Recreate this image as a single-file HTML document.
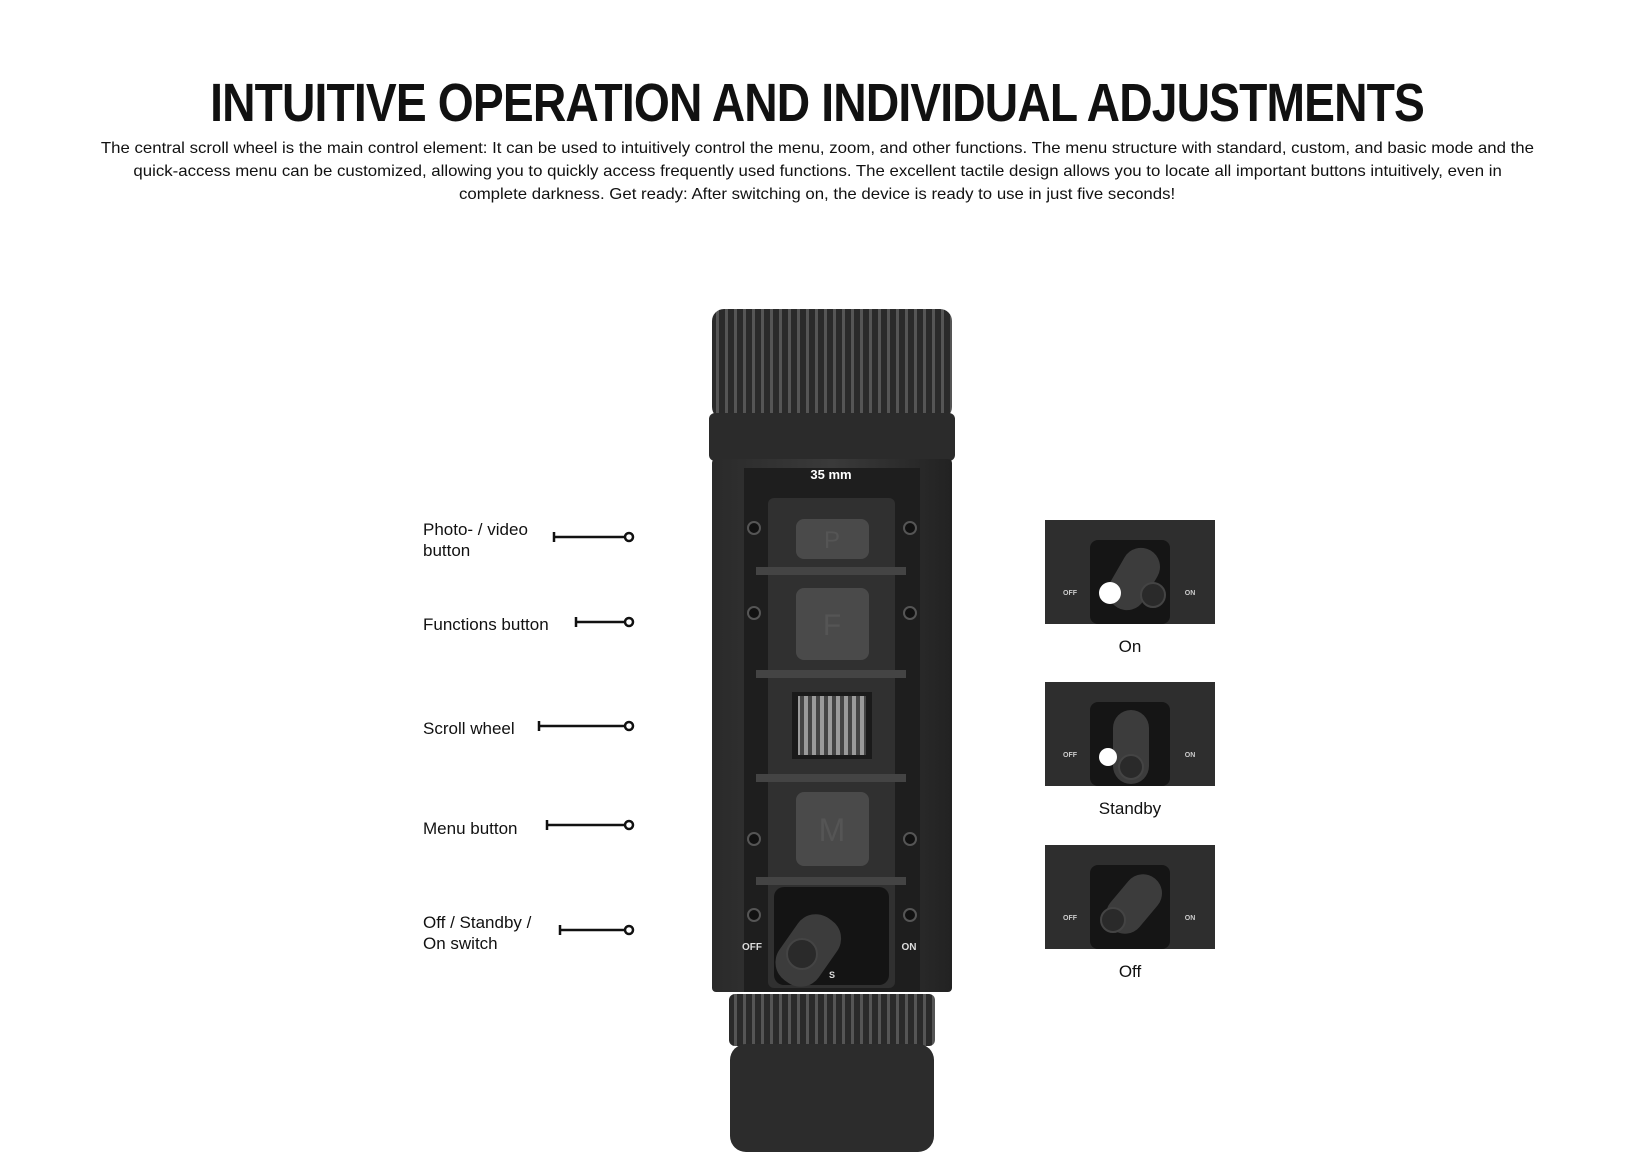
<!DOCTYPE html>
<html><head><meta charset="utf-8"><style>
html,body{margin:0;padding:0;background:#fff;}
body{width:1635px;height:1171px;position:relative;overflow:hidden;font-family:"Liberation Sans",sans-serif;color:#111;}
h1{position:absolute;left:0;width:1635px;top:72px;margin:0;text-align:center;font-size:54px;font-weight:bold;letter-spacing:-1px;}
h1 span{display:inline-block;transform:scaleX(0.856);}
.p{position:absolute;left:0;width:1635px;top:137px;text-align:center;font-size:16px;line-height:23px;}
.p div{white-space:nowrap;}
.p span{display:inline-block;transform:scaleX(1.05);}
svg{position:absolute;left:0;top:0;}
</style></head><body>
<h1><span>INTUITIVE OPERATION AND INDIVIDUAL ADJUSTMENTS</span></h1>
<div class="p">
<div><span>The central scroll wheel is the main control element: It can be used to intuitively control the menu, zoom, and other functions. The menu structure with standard, custom, and basic mode and the</span></div>
<div><span>quick-access menu can be customized, allowing you to quickly access frequently used functions. The excellent tactile design allows you to locate all important buttons intuitively, even in</span></div>
<div><span>complete darkness. Get ready: After switching on, the device is ready to use in just five seconds!</span></div>
</div>
<svg width="1635" height="1171" viewBox="0 0 1635 1171">
<defs>
<pattern id="knurl" width="9" height="10" patternUnits="userSpaceOnUse"><rect width="9" height="10" fill="#2a2a2a"/><rect width="3" height="10" fill="#555"/></pattern>
<linearGradient id="body" x1="0" x2="1"><stop offset="0" stop-color="#2a2a2a"/><stop offset="0.5" stop-color="#3a3a3a"/><stop offset="1" stop-color="#222"/></linearGradient>
<pattern id="wheel" width="8" height="10" patternUnits="userSpaceOnUse"><rect width="8" height="10" fill="#444"/><rect width="4" height="10" fill="#9a9a9a"/></pattern>
</defs>
<g transform="translate(-4,-2)">
<rect x="716" y="311" width="240" height="110" rx="12" fill="url(#knurl)"/>
<rect x="713" y="415" width="246" height="48" rx="6" fill="#2b2b2b"/>
<rect x="716" y="461" width="240" height="533" rx="4" fill="url(#body)"/>
<rect x="748" y="470" width="176" height="524" fill="#1e1e1e"/>
<text x="835" y="481" fill="#fff" font-size="13" font-weight="bold" text-anchor="middle">35 mm</text>
<rect x="772" y="500" width="127" height="490" rx="6" fill="#303030"/>
<g fill="#444"><rect x="760" y="569" width="150" height="8"/><rect x="760" y="672" width="150" height="8"/><rect x="760" y="776" width="150" height="8"/><rect x="760" y="879" width="150" height="8"/></g>
<rect x="800" y="521" width="73" height="40" rx="8" fill="#4a4a4a"/>
<text x="836" y="550" fill="#555" font-size="24" text-anchor="middle">P</text>
<rect x="800" y="590" width="73" height="72" rx="8" fill="#4a4a4a"/>
<text x="836" y="637" fill="#555" font-size="30" text-anchor="middle">F</text>
<rect x="796" y="694" width="80" height="67" fill="#1a1a1a"/>
<rect x="802" y="698" width="68" height="59" fill="url(#wheel)"/>
<rect x="800" y="794" width="73" height="74" rx="8" fill="#4a4a4a"/>
<text x="836" y="843" fill="#555" font-size="32" text-anchor="middle">M</text>
<rect x="778" y="889" width="115" height="98" rx="10" fill="#141414"/>
<rect x="790" y="915" width="48" height="76" rx="22" fill="#3c3c3c" transform="rotate(35 814 950)"/>
<circle cx="806" cy="956" r="15" fill="#2a2a2a" stroke="#444" stroke-width="2"/>
<text x="756" y="952" fill="#ddd" font-size="10" font-weight="bold" text-anchor="middle">OFF</text>
<text x="913" y="952" fill="#ddd" font-size="10" font-weight="bold" text-anchor="middle">ON</text>
<text x="836" y="980" fill="#ddd" font-size="9" font-weight="bold" text-anchor="middle">S</text>
<g fill="#111" stroke="#555" stroke-width="2"><circle cx="758" cy="530" r="6"/><circle cx="914" cy="530" r="6"/><circle cx="758" cy="615" r="6"/><circle cx="914" cy="615" r="6"/><circle cx="758" cy="841" r="6"/><circle cx="914" cy="841" r="6"/><circle cx="758" cy="917" r="6"/><circle cx="914" cy="917" r="6"/></g>
<rect x="733" y="996" width="206" height="52" rx="6" fill="url(#knurl)"/>
<rect x="734" y="1046" width="204" height="108" rx="16" fill="#2c2c2c"/>
</g>
<g font-size="17" fill="#111">
<text x="423" y="535">Photo- / video</text><text x="423" y="556">button</text>
<text x="423" y="630">Functions button</text>
<text x="423" y="734">Scroll wheel</text>
<text x="423" y="834">Menu button</text>
<text x="423" y="928">Off / Standby /</text><text x="423" y="949">On switch</text>
</g>
<g stroke="#111" stroke-width="2.5" fill="#fff" transform="translate(-2,-1)">
<line x1="556" y1="538" x2="628" y2="538"/><line x1="556" y1="533" x2="556" y2="543"/><circle cx="631" cy="538" r="4"/>
<line x1="578" y1="623" x2="628" y2="623"/><line x1="578" y1="618" x2="578" y2="628"/><circle cx="631" cy="623" r="4"/>
<line x1="541" y1="727" x2="628" y2="727"/><line x1="541" y1="722" x2="541" y2="732"/><circle cx="631" cy="727" r="4"/>
<line x1="549" y1="826" x2="628" y2="826"/><line x1="549" y1="821" x2="549" y2="831"/><circle cx="631" cy="826" r="4"/>
<line x1="562" y1="931" x2="628" y2="931"/><line x1="562" y1="926" x2="562" y2="936"/><circle cx="631" cy="931" r="4"/>
</g>
<g transform="translate(-5,-3)">
<g transform="translate(1050,523)">
<rect width="170" height="104" fill="#2e2e2e"/><rect x="45" y="20" width="80" height="84" rx="8" fill="#151515"/>
<rect x="70" y="26" width="38" height="66" rx="19" fill="#3c3c3c" transform="rotate(30 89 59)"/><circle cx="108" cy="75" r="12" fill="#2a2a2a" stroke="#444" stroke-width="2"/>
<circle cx="65" cy="73" r="11" fill="#fff"/>
<text x="25" y="75" fill="#ccc" font-size="7" font-weight="bold" text-anchor="middle">OFF</text><text x="145" y="75" fill="#ccc" font-size="7" font-weight="bold" text-anchor="middle">ON</text>
</g>
<g transform="translate(1050,685)">
<rect width="170" height="104" fill="#2e2e2e"/><rect x="45" y="20" width="80" height="84" rx="8" fill="#151515"/>
<rect x="68" y="28" width="36" height="74" rx="18" fill="#3c3c3c"/><circle cx="86" cy="85" r="12" fill="#2a2a2a" stroke="#444" stroke-width="2"/>
<circle cx="63" cy="75" r="9" fill="#fff"/>
<text x="25" y="75" fill="#ccc" font-size="7" font-weight="bold" text-anchor="middle">OFF</text><text x="145" y="75" fill="#ccc" font-size="7" font-weight="bold" text-anchor="middle">ON</text>
</g>
<g transform="translate(1050,848)">
<rect width="170" height="104" fill="#2e2e2e"/><rect x="45" y="20" width="80" height="84" rx="8" fill="#151515"/>
<rect x="70" y="26" width="38" height="66" rx="19" fill="#3c3c3c" transform="rotate(40 89 59)"/><circle cx="68" cy="75" r="12" fill="#2a2a2a" stroke="#444" stroke-width="2"/>
<text x="25" y="75" fill="#ccc" font-size="7" font-weight="bold" text-anchor="middle">OFF</text><text x="145" y="75" fill="#ccc" font-size="7" font-weight="bold" text-anchor="middle">ON</text>
</g>
<g font-size="17" fill="#111" text-anchor="middle">
<text x="1135" y="655">On</text><text x="1135" y="817">Standby</text><text x="1135" y="980">Off</text>
</g>
</g>
</svg>
</body></html>
